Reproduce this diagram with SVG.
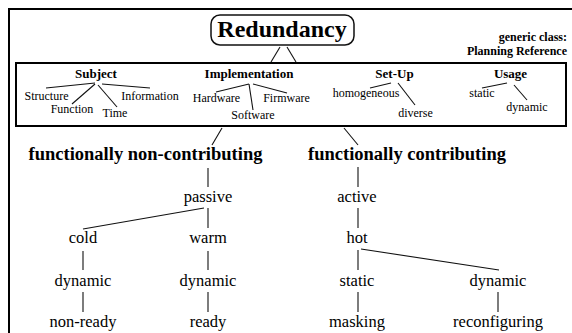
<svg xmlns="http://www.w3.org/2000/svg" width="572" height="333" viewBox="0 0 572 333">
<style>
.sm{font-size:12px}
.smb{font-size:13px;font-weight:bold}
.gc{font-size:12px;font-weight:bold}
.lg{font-size:16.5px}
.hd{font-size:18.5px;font-weight:bold}
.ti{font-size:24px;font-weight:bold}
.c line{stroke:#111;stroke-width:1.1}
.frame{fill:none;stroke:#000;stroke-width:2}
</style>
<rect width="572" height="333" fill="#fff"/>
<path class="frame" d="M572 9H9V333"/>
<g id="inner-box"><rect class="frame" x="16" y="63" width="550" height="63"/></g>
<g id="redundancy">
<rect x="211" y="15" width="143" height="30" rx="9" fill="none" stroke="#111" stroke-width="1.5"/>
<text font-family="Liberation Serif" text-anchor="middle" class="ti" x="282" y="36.5">Redundancy</text>
</g>
<g id="generic-class">
<text font-family="Liberation Serif" text-anchor="end" class="gc" x="567" y="41">generic class:</text>
<text font-family="Liberation Serif" text-anchor="end" class="gc" x="567" y="55">Planning Reference</text>
</g>
<g id="subject">
<text font-family="Liberation Serif" text-anchor="middle" class="smb" x="96" y="78">Subject</text>
<text font-family="Liberation Serif" text-anchor="middle" class="sm" x="46.5" y="100">Structure</text>
<text font-family="Liberation Serif" text-anchor="middle" class="sm" x="72" y="113">Function</text>
<text font-family="Liberation Serif" text-anchor="middle" class="sm" x="115" y="117">Time</text>
<text font-family="Liberation Serif" text-anchor="middle" class="sm" x="150" y="100">Information</text>
</g>
<g id="implementation">
<text font-family="Liberation Serif" text-anchor="middle" class="smb" x="249" y="78">Implementation</text>
<text font-family="Liberation Serif" text-anchor="middle" class="sm" x="216.5" y="102">Hardware</text>
<text font-family="Liberation Serif" text-anchor="middle" class="sm" x="286.5" y="102">Firmware</text>
<text font-family="Liberation Serif" text-anchor="middle" class="sm" x="253" y="119">Software</text>
</g>
<g id="setup">
<text font-family="Liberation Serif" text-anchor="middle" class="smb" x="394.5" y="78">Set-Up</text>
<text font-family="Liberation Serif" text-anchor="middle" class="sm" x="366" y="97">homogeneous</text>
<text font-family="Liberation Serif" text-anchor="middle" class="sm" x="415.5" y="117">diverse</text>
</g>
<g id="usage">
<text font-family="Liberation Serif" text-anchor="middle" class="smb" x="510.5" y="78">Usage</text>
<text font-family="Liberation Serif" text-anchor="middle" class="sm" x="482" y="97">static</text>
<text font-family="Liberation Serif" text-anchor="middle" class="sm" x="527" y="111">dynamic</text>
</g>
<g id="non-contributing"><text font-family="Liberation Serif" text-anchor="middle" class="hd" x="145.5" y="160">functionally non-contributing</text></g>
<g id="contributing"><text font-family="Liberation Serif" text-anchor="middle" class="hd" x="407" y="160">functionally contributing</text></g>
<g id="passive"><text font-family="Liberation Serif" text-anchor="middle" class="lg" x="208" y="202">passive</text></g>
<g id="cold"><text font-family="Liberation Serif" text-anchor="middle" class="lg" x="83" y="243">cold</text></g>
<g id="warm"><text font-family="Liberation Serif" text-anchor="middle" class="lg" x="208" y="243">warm</text></g>
<g id="cold-dynamic"><text font-family="Liberation Serif" text-anchor="middle" class="lg" x="83" y="286">dynamic</text></g>
<g id="warm-dynamic"><text font-family="Liberation Serif" text-anchor="middle" class="lg" x="208" y="286">dynamic</text></g>
<g id="non-ready"><text font-family="Liberation Serif" text-anchor="middle" class="lg" x="83" y="327">non-ready</text></g>
<g id="ready"><text font-family="Liberation Serif" text-anchor="middle" class="lg" x="208" y="327">ready</text></g>
<g id="active"><text font-family="Liberation Serif" text-anchor="middle" class="lg" x="357" y="202">active</text></g>
<g id="hot"><text font-family="Liberation Serif" text-anchor="middle" class="lg" x="357" y="243">hot</text></g>
<g id="static"><text font-family="Liberation Serif" text-anchor="middle" class="lg" x="357" y="286">static</text></g>
<g id="hot-dynamic"><text font-family="Liberation Serif" text-anchor="middle" class="lg" x="498" y="286">dynamic</text></g>
<g id="masking"><text font-family="Liberation Serif" text-anchor="middle" class="lg" x="357" y="327">masking</text></g>
<g id="reconfiguring"><text font-family="Liberation Serif" text-anchor="middle" class="lg" x="498" y="327">reconfiguring</text></g>
<g id="connectors" class="c">
<line x1="280" y1="47" x2="271" y2="62"/>
<line x1="287" y1="47" x2="296" y2="62"/>
<line x1="95" y1="83" x2="46" y2="88"/>
<line x1="95" y1="84" x2="72" y2="104"/>
<line x1="98" y1="85" x2="117" y2="107"/>
<line x1="102" y1="84" x2="150" y2="88"/>
<line x1="249" y1="84" x2="216" y2="92"/>
<line x1="249" y1="84" x2="253" y2="110"/>
<line x1="253" y1="84" x2="287" y2="93"/>
<line x1="391" y1="83" x2="370" y2="88"/>
<line x1="398" y1="83" x2="415" y2="105"/>
<line x1="507" y1="83" x2="482" y2="88"/>
<line x1="514" y1="85" x2="527" y2="100"/>
<line x1="222" y1="128" x2="212" y2="145"/>
<line x1="344" y1="128" x2="358" y2="145"/>
<line x1="208" y1="168" x2="208" y2="187"/>
<line x1="208" y1="208" x2="208" y2="228"/>
<line x1="204" y1="208" x2="83" y2="229"/>
<line x1="83" y1="251" x2="83" y2="270"/>
<line x1="208" y1="251" x2="208" y2="270"/>
<line x1="83" y1="292" x2="83" y2="312"/>
<line x1="208" y1="292" x2="208" y2="312"/>
<line x1="358" y1="167" x2="358" y2="187"/>
<line x1="358" y1="208" x2="358" y2="228"/>
<line x1="358" y1="250" x2="358" y2="270"/>
<line x1="361" y1="249" x2="499" y2="270"/>
<line x1="358" y1="292" x2="358" y2="312"/>
<line x1="498" y1="292" x2="498" y2="312"/>
</g>
</svg>
